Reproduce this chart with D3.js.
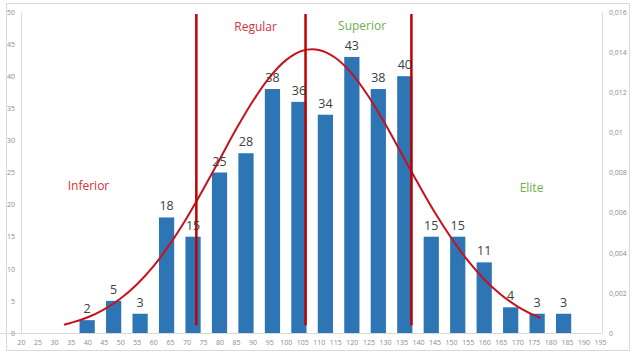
<!DOCTYPE html>
<html>
<head>
<meta charset="utf-8">
<script src="https://cdn.jsdelivr.net/npm/d3@7"></script>
<style>
	body { margin:0; background:#ffffff; }
	#idChart { width:633px; height:354px; }
</style>
</head>
<body>
<div id="idChart"></div>
<script>
// bar bins (centre of each class on the score axis) and the counts
var aBinCentres = [40, 48, 56, 64, 72, 80, 88, 96, 104, 112, 120, 128, 136, 144, 152, 160, 168, 176, 184];
var aCounts     = [2, 5, 3, 18, 15, 25, 28, 38, 36, 34, 43, 38, 40, 15, 15, 11, 4, 3, 3];

// fitted curve
var aCurveX = [33, 35, 40, 45, 50, 55, 60, 65, 70, 75, 80, 85, 90, 95, 100, 105, 110, 115, 120, 125, 130, 135, 140, 145, 150, 155, 160, 165, 170, 175, 177];
var aCurveY = [0.00041, 0.00050, 0.00077, 0.00117, 0.00171, 0.00242, 0.00332, 0.00443, 0.00571, 0.00714, 0.00864, 0.01015, 0.01154, 0.01272, 0.01359, 0.01407, 0.01411, 0.01372, 0.01293, 0.01180, 0.01044, 0.00895, 0.00746, 0.00603, 0.00475, 0.00362, 0.00268, 0.00192, 0.00133, 0.00089, 0.00075];

// class limits and names
var aCutPoints = [73, 106, 138];
var aZones = ["Inferior", "Regular", "Superior", "Elite"];

// tick labels
var aXTicks = [20, 25, 30, 35, 40, 45, 50, 55, 60, 65, 70, 75, 80, 85, 90, 95, 100, 105, 110, 115, 120, 125, 130, 135, 140, 145, 150, 155, 160, 165, 170, 175, 180, 185, 190, 195];
var aLeftTicks = [0, 5, 10, 15, 20, 25, 30, 35, 40, 45, 50];
var aRightTicks = [0, 0.002, 0.004, 0.006, 0.008, 0.01, 0.012, 0.014, 0.016];

function DrawHistogram()
{
	var iWidth = 633;
	var iHeight = 354;
	var sFont = "'Open Sans', sans-serif";
	var sGrid = "#d9d9d9";
	var sTick = "#8c8c8c";
	var sRed = "#c00000";

	var myCanvas = d3.select("#idChart").append("svg")
		.attr("width", iWidth)
		.attr("height", iHeight);

	myCanvas.append("rect")
		.attr("x", 6.5).attr("y", 3.5)
		.attr("width", 623).attr("height", 347)
		.attr("fill", "none")
		.attr("stroke", sGrid);

	var xScale = d3.scaleLinear().domain([20, 195]).range([21, 600]);
	var yLeft = d3.scaleLinear().domain([0, 50]).range([333, 12]);
	var yRight = d3.scaleLinear().domain([0, 0.016]).range([333, 12]);

	var myLocale = d3.formatLocale({decimal: ",", thousands: ".", grouping: [3], currency: ["", ""]});

	// axes
	var gBottom = myCanvas.append("g")
		.attr("transform", "translate(0,333)")
		.call(d3.axisBottom(xScale).tickValues(aXTicks).tickSize(0).tickPadding(7.5));

	var gLeft = myCanvas.append("g")
		.attr("transform", "translate(21,0)")
		.call(d3.axisLeft(yLeft).tickValues(aLeftTicks).tickSize(0).tickPadding(6));

	var gRight = myCanvas.append("g")
		.attr("transform", "translate(602,0)")
		.call(d3.axisRight(yRight).tickValues(aRightTicks).tickSize(0).tickPadding(7)
			.tickFormat(myLocale.format(".3~f")));

	[gBottom, gLeft, gRight].forEach(function(gAxis) {
		gAxis.select(".domain").attr("stroke", sGrid).attr("stroke-width", 1);
		gAxis.selectAll("text")
			.attr("fill", sTick)
			.style("font-family", sFont)
			.style("font-size", "7px");
	});
	gBottom.select(".domain").attr("d", "M0,0.5H602");

	// bars
	var myBars = myCanvas.append("g").selectAll("rect")
		.data(aCounts)
		.enter().append("rect")
			.attr("x", function(iCount, i) { return xScale(aBinCentres[i] - 2.3); })
			.attr("width", function(iCount, i) { return xScale(aBinCentres[i] + 2.3) - xScale(aBinCentres[i] - 2.3); })
			.attr("y", function(iCount) { return yLeft(iCount); })
			.attr("height", function(iCount) { return yLeft(0) - yLeft(iCount); })
			.attr("fill", "#2e75b6");

	// curve
	var myLine = d3.line()
		.x(function(dX, i) { return xScale(dX); })
		.y(function(dX, i) { return yRight(aCurveY[i]); })
		.curve(d3.curveCatmullRom);

	myCanvas.append("path")
		.datum(aCurveX)
		.attr("d", myLine)
		.attr("fill", "none")
		.attr("stroke", "#c8101e")
		.attr("stroke-width", 2);

	// class limits
	myCanvas.append("g").selectAll("line")
		.data(aCutPoints)
		.enter().append("line")
			.attr("x1", function(dX) { return xScale(dX); })
			.attr("x2", function(dX) { return xScale(dX); })
			.attr("y1", yLeft(49.7))
			.attr("y2", yLeft(1.2))
			.attr("stroke", sRed)
			.attr("stroke-width", 2.5);

	// value labels
	myCanvas.append("g").selectAll("text")
		.data(aCounts)
		.enter().append("text")
			.text(function(iCount) { return iCount; })
			.attr("x", function(iCount, i) { return xScale(aBinCentres[i]); })
			.attr("y", function(iCount) { return yLeft(iCount) - 7; })
			.attr("text-anchor", "middle")
			.attr("fill", "#404040")
			.style("font-family", sFont)
			.style("font-size", "12.5px");

	// class names
	var aZonePlace = [
		{x: 40.4, y: 22.3, sColour: "#d0313a"},
		{x: 90.9, y: 47.0, sColour: "#d0313a"},
		{x: 123.1, y: 47.2, sColour: "#70ad47"},
		{x: 174.3, y: 21.9, sColour: "#70ad47"}
	];
	myCanvas.append("g").selectAll("text")
		.data(aZones)
		.enter().append("text")
			.text(function(sZone) { return sZone; })
			.attr("x", function(sZone, i) { return xScale(aZonePlace[i].x); })
			.attr("y", function(sZone, i) { return yLeft(aZonePlace[i].y); })
			.attr("text-anchor", "middle")
			.attr("fill", function(sZone, i) { return aZonePlace[i].sColour; })
			.style("font-family", sFont)
			.style("font-size", "12px");
}

DrawHistogram();
</script>
</body>
</html>
